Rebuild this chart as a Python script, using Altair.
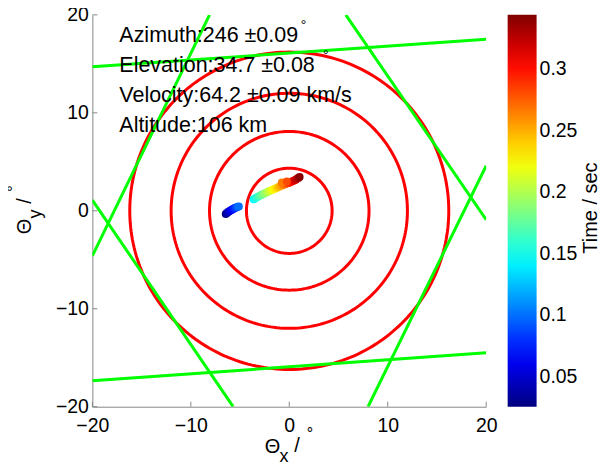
import numpy as np
import pandas as pd
import altair as alt

# ---------------- data ----------------
CIRCLE_RADII = [4.35, 8.1, 12.0, 16.2]

GREEN_LINE_ID = [1, 1, 2, 2, 3, 3, 4, 4, 5, 5, 6, 6]
GREEN_X = [-20, 20, -20, 20, -8.1, -20, 5.74, 20, -20, -5.7, 8.0, 20]
GREEN_Y = [14.7, 17.5, -17.35, -14.5, 20, -4.6, 20, -0.9, 1.1, -20, -20, 4.6]

TRAIL_T = [0.028, 0.034, 0.040, 0.046, 0.052, 0.058, 0.064, 0.070, 0.076, 0.082,
           0.088, 0.094, 0.100,
           0.145, 0.152, 0.159, 0.166, 0.173, 0.180, 0.187, 0.194, 0.201, 0.208,
           0.215, 0.222, 0.229, 0.236, 0.243, 0.250, 0.257, 0.264, 0.271, 0.278,
           0.285, 0.292, 0.299, 0.306, 0.313, 0.320, 0.327, 0.334, 0.341,
           0.266, 0.281]
TRAIL_X = [-6.45, -6.36, -6.25, -6.13, -6.01, -5.89, -5.78, -5.67, -5.56, -5.45,
           -5.34, -5.23, -5.12,
           -3.62, -3.45, -3.28, -3.10, -2.92, -2.74, -2.55, -2.36, -2.18, -2.00,
           -1.82, -1.64, -1.46, -1.28, -1.10, -0.92, -0.75, -0.58, -0.42, -0.26,
           -0.10, 0.06, 0.22, 0.38, 0.54, 0.68, 0.82, 0.95, 1.05,
           -0.75, -0.25]
TRAIL_Y = [-0.32, -0.24, -0.15, -0.07, 0.01, 0.08, 0.14, 0.20, 0.26, 0.31,
           0.36, 0.41, 0.45,
           1.18, 1.28, 1.38, 1.48, 1.58, 1.67, 1.76, 1.85, 1.94, 2.02,
           2.10, 2.18, 2.25, 2.33, 2.42, 2.50, 2.58, 2.66, 2.72, 2.78,
           2.84, 2.90, 2.97, 3.04, 3.12, 3.20, 3.30, 3.38, 3.44,
           2.90, 3.00]

ANNOTATION_LINES = ["Azimuth:246 \u00b10.09", "Elevation:34.7 \u00b10.08",
                    "Velocity:64.2 \u00b10.09 km/s", "Altitude:106 km"]
COLORBAR_TITLE = "Time / sec"
AXIS_TICKS = [-20, -10, 0, 10, 20]
COLORBAR_TICKS = [0.05, 0.1, 0.15, 0.2, 0.25, 0.3]
TIME_MIN, TIME_MAX = 0.0257, 0.344
JET = ["#000080", "#0000FF", "#0080FF", "#00FFFF", "#80FF80",
       "#FFFF00", "#FF8000", "#FF0000", "#800000"]

# ---------------- tables built from the arrays ----------------
ang = np.linspace(0, 2 * np.pi, 241)
circle_df = pd.concat(
    [pd.DataFrame({"r": r, "i": np.arange(len(ang)),
                   "x": r * np.cos(ang), "y": r * np.sin(ang)}) for r in CIRCLE_RADII],
    ignore_index=True)
green_df = pd.DataFrame({"id": GREEN_LINE_ID, "x": GREEN_X, "y": GREEN_Y})
trail_df = pd.DataFrame({"t": TRAIL_T, "x": TRAIL_X, "y": TRAIL_Y})
tick_df = pd.DataFrame({"v": AXIS_TICKS})
one = pd.DataFrame({"a": [0]})

W, H = 394.5, 392.5
FONT = "Liberation Sans"
GRAY = "#888888"

xs = alt.Scale(domain=[-20, 20], nice=False, zero=False)
ys = alt.Scale(domain=[-20, 20], nice=False, zero=False)
xaxis = alt.Axis(values=AXIS_TICKS, labelFontSize=19.5, labelFont=FONT, labelColor="black",
                 domainColor=GRAY, ticks=False, tickSize=0, labelPadding=10,
                 grid=False, labelFlush=False)
yaxis = alt.Axis(values=AXIS_TICKS, labelFontSize=19.5, labelFont=FONT, labelColor="black",
                 domainColor=GRAY, ticks=False, tickSize=0, labelPadding=4,
                 grid=False, labelFlush=False)

n_stops = len(JET)
stops = [TIME_MIN + (TIME_MAX - TIME_MIN) * k / (n_stops - 1) for k in range(n_stops)]

circles = alt.Chart(circle_df).mark_line(color="#FF0000", strokeWidth=3, clip=True).encode(
    x=alt.X("x:Q", scale=xs, axis=xaxis, title=None),
    y=alt.Y("y:Q", scale=ys, axis=yaxis, title=None),
    detail="r:N", order="i:Q")

green = alt.Chart(green_df).mark_line(color="#00FF00", strokeWidth=3, clip=True).encode(
    x=alt.X("x:Q", title=None), y=alt.Y("y:Q", title=None), detail="id:N")

points = alt.Chart(trail_df).mark_circle(size=64, opacity=1).encode(
    x=alt.X("x:Q", title=None), y=alt.Y("y:Q", title=None),
    color=alt.Color("t:Q",
                    scale=alt.Scale(domain=stops, range=JET, interpolate="rgb"),
                    legend=alt.Legend(title=None, values=COLORBAR_TICKS, format="~g",
                                      orient="right", direction="vertical",
                                      gradientLength=H, gradientThickness=29, offset=21,
                                      padding=0, labelFontSize=19.5, labelFont=FONT,
                                      labelOffset=3, labelColor="black",
                                      gradientStrokeWidth=0)))

xticks = alt.Chart(tick_df).mark_rule(color=GRAY, strokeWidth=1).encode(
    x=alt.X("v:Q", title=None), y=alt.value(H), y2=alt.value(H - 5))
yticks = alt.Chart(tick_df).mark_rule(color=GRAY, strokeWidth=1).encode(
    y=alt.Y("v:Q", title=None), x=alt.value(0), x2=alt.value(5))

annot = alt.Chart(one).mark_text(align="left", baseline="alphabetic", fontSize=21.5, font=FONT,
                                 lineHeight=30, color="black").encode(
    x=alt.datum(-17.26), y=alt.datum(17.23), text=alt.value(ANNOTATION_LINES))
deg1 = alt.Chart(one).mark_text(text="\u00b0", fontSize=14, font=FONT, color="black",
                                baseline="alphabetic").encode(x=alt.datum(1.45), y=alt.datum(18.45))
deg2 = alt.Chart(one).mark_text(text="\u00b0", fontSize=14, font=FONT, color="black",
                                baseline="alphabetic").encode(x=alt.datum(3.72), y=alt.datum(15.39))


def label(txt, px, py, fs, angle=0):
    m = alt.Chart(one).mark_text(text=txt, fontSize=fs, font=FONT, color="black",
                                 align="center", baseline="alphabetic", angle=angle)
    return m.encode(x=alt.value(px), y=alt.value(py))


xtitle = [label("\u0398", 180.5, 438.5, 20), label("x", 192, 447.5, 18),
          label("/", 205, 437.5, 20), label("\u00b0", 218, 425.1, 16)]
ytitle = [label("\u0398", -61, 212, 20, 270), label("y", -51.5, 199.5, 18, 270),
          label("/", -61, 186.5, 20, 270), label("\u00b0", -73.4, 174, 16, 270)]
ctitle = [label(COLORBAR_TITLE, 505.5, 193.5, 20, 270)]

chart = alt.layer(circles, green, points, xticks, yticks, annot, deg1, deg2,
                  *xtitle, *ytitle, *ctitle).properties(
    width=W, height=H,
    padding={"left": 84.5, "top": 6.5, "right": 112, "bottom": 55},
    autosize=alt.AutoSizeParams(type="none"),
    background="white",
).configure_view(stroke=None)

chart.save("out.html", embed_options={"renderer": "svg", "actions": False})
